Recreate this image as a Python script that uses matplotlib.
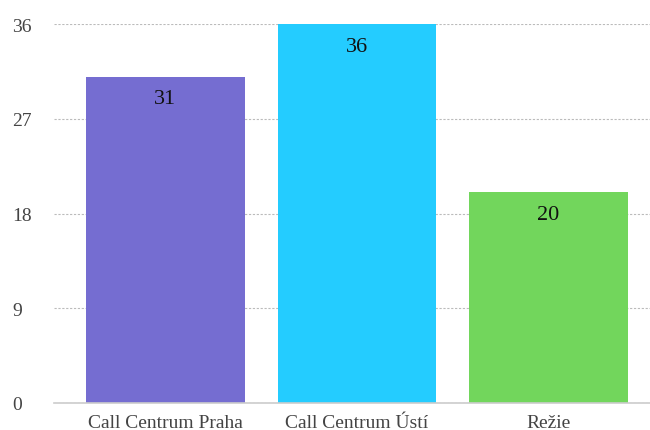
import matplotlib
matplotlib.use("Agg")
import matplotlib.pyplot as plt

categories = ["Call Centrum Praha", "Call Centrum Ústí", "Režie"]
values = [31, 36, 20]
colors = ["#756dd1", "#24ccff", "#72d65c"]
yticks = [0, 9, 18, 27, 36]

plt.rcParams['font.family'] = ['Liberation Serif', 'DejaVu Serif']

fig = plt.figure(figsize=(6.5, 4.31), dpi=100)
ax = fig.add_axes([54/650, 1-404/431, 596/650, (404-25)/431])

x = list(range(len(categories)))
bars = ax.bar(x, values, width=0.83, color=colors, zorder=2)
for xi, v in zip(x, values):
    ax.annotate(str(v), (xi, v), xytext=(0, -22), textcoords="offset pixels",
                ha="center", va="center", fontsize=16, color="#111111", zorder=3)

ax.set_ylim(0, 36)
ax.set_xlim(-0.582, 2.53)
ax.set_yticks(yticks)
ax.set_yticklabels([str(t) for t in yticks])
ax.set_xticks(x)
ax.set_xticklabels(categories)
ax.tick_params(axis='both', length=0, labelsize=14, colors="#444444")
ax.tick_params(axis='x', pad=8)
for t in ax.get_yticklabels():
    t.set_horizontalalignment('left')
ax.yaxis.set_tick_params(pad=30)

ax.grid(axis='y', linestyle=(0, (2, 1.5)), color="#bbbbbb", linewidth=0.8, zorder=0)
for s in ["top", "right", "left"]:
    ax.spines[s].set_visible(False)
ax.spines["bottom"].set_color("#cccccc")
ax.spines["bottom"].set_linewidth(1.2)
ax.spines["bottom"].set_zorder(3)

fig.savefig("out.png", dpi=100)
